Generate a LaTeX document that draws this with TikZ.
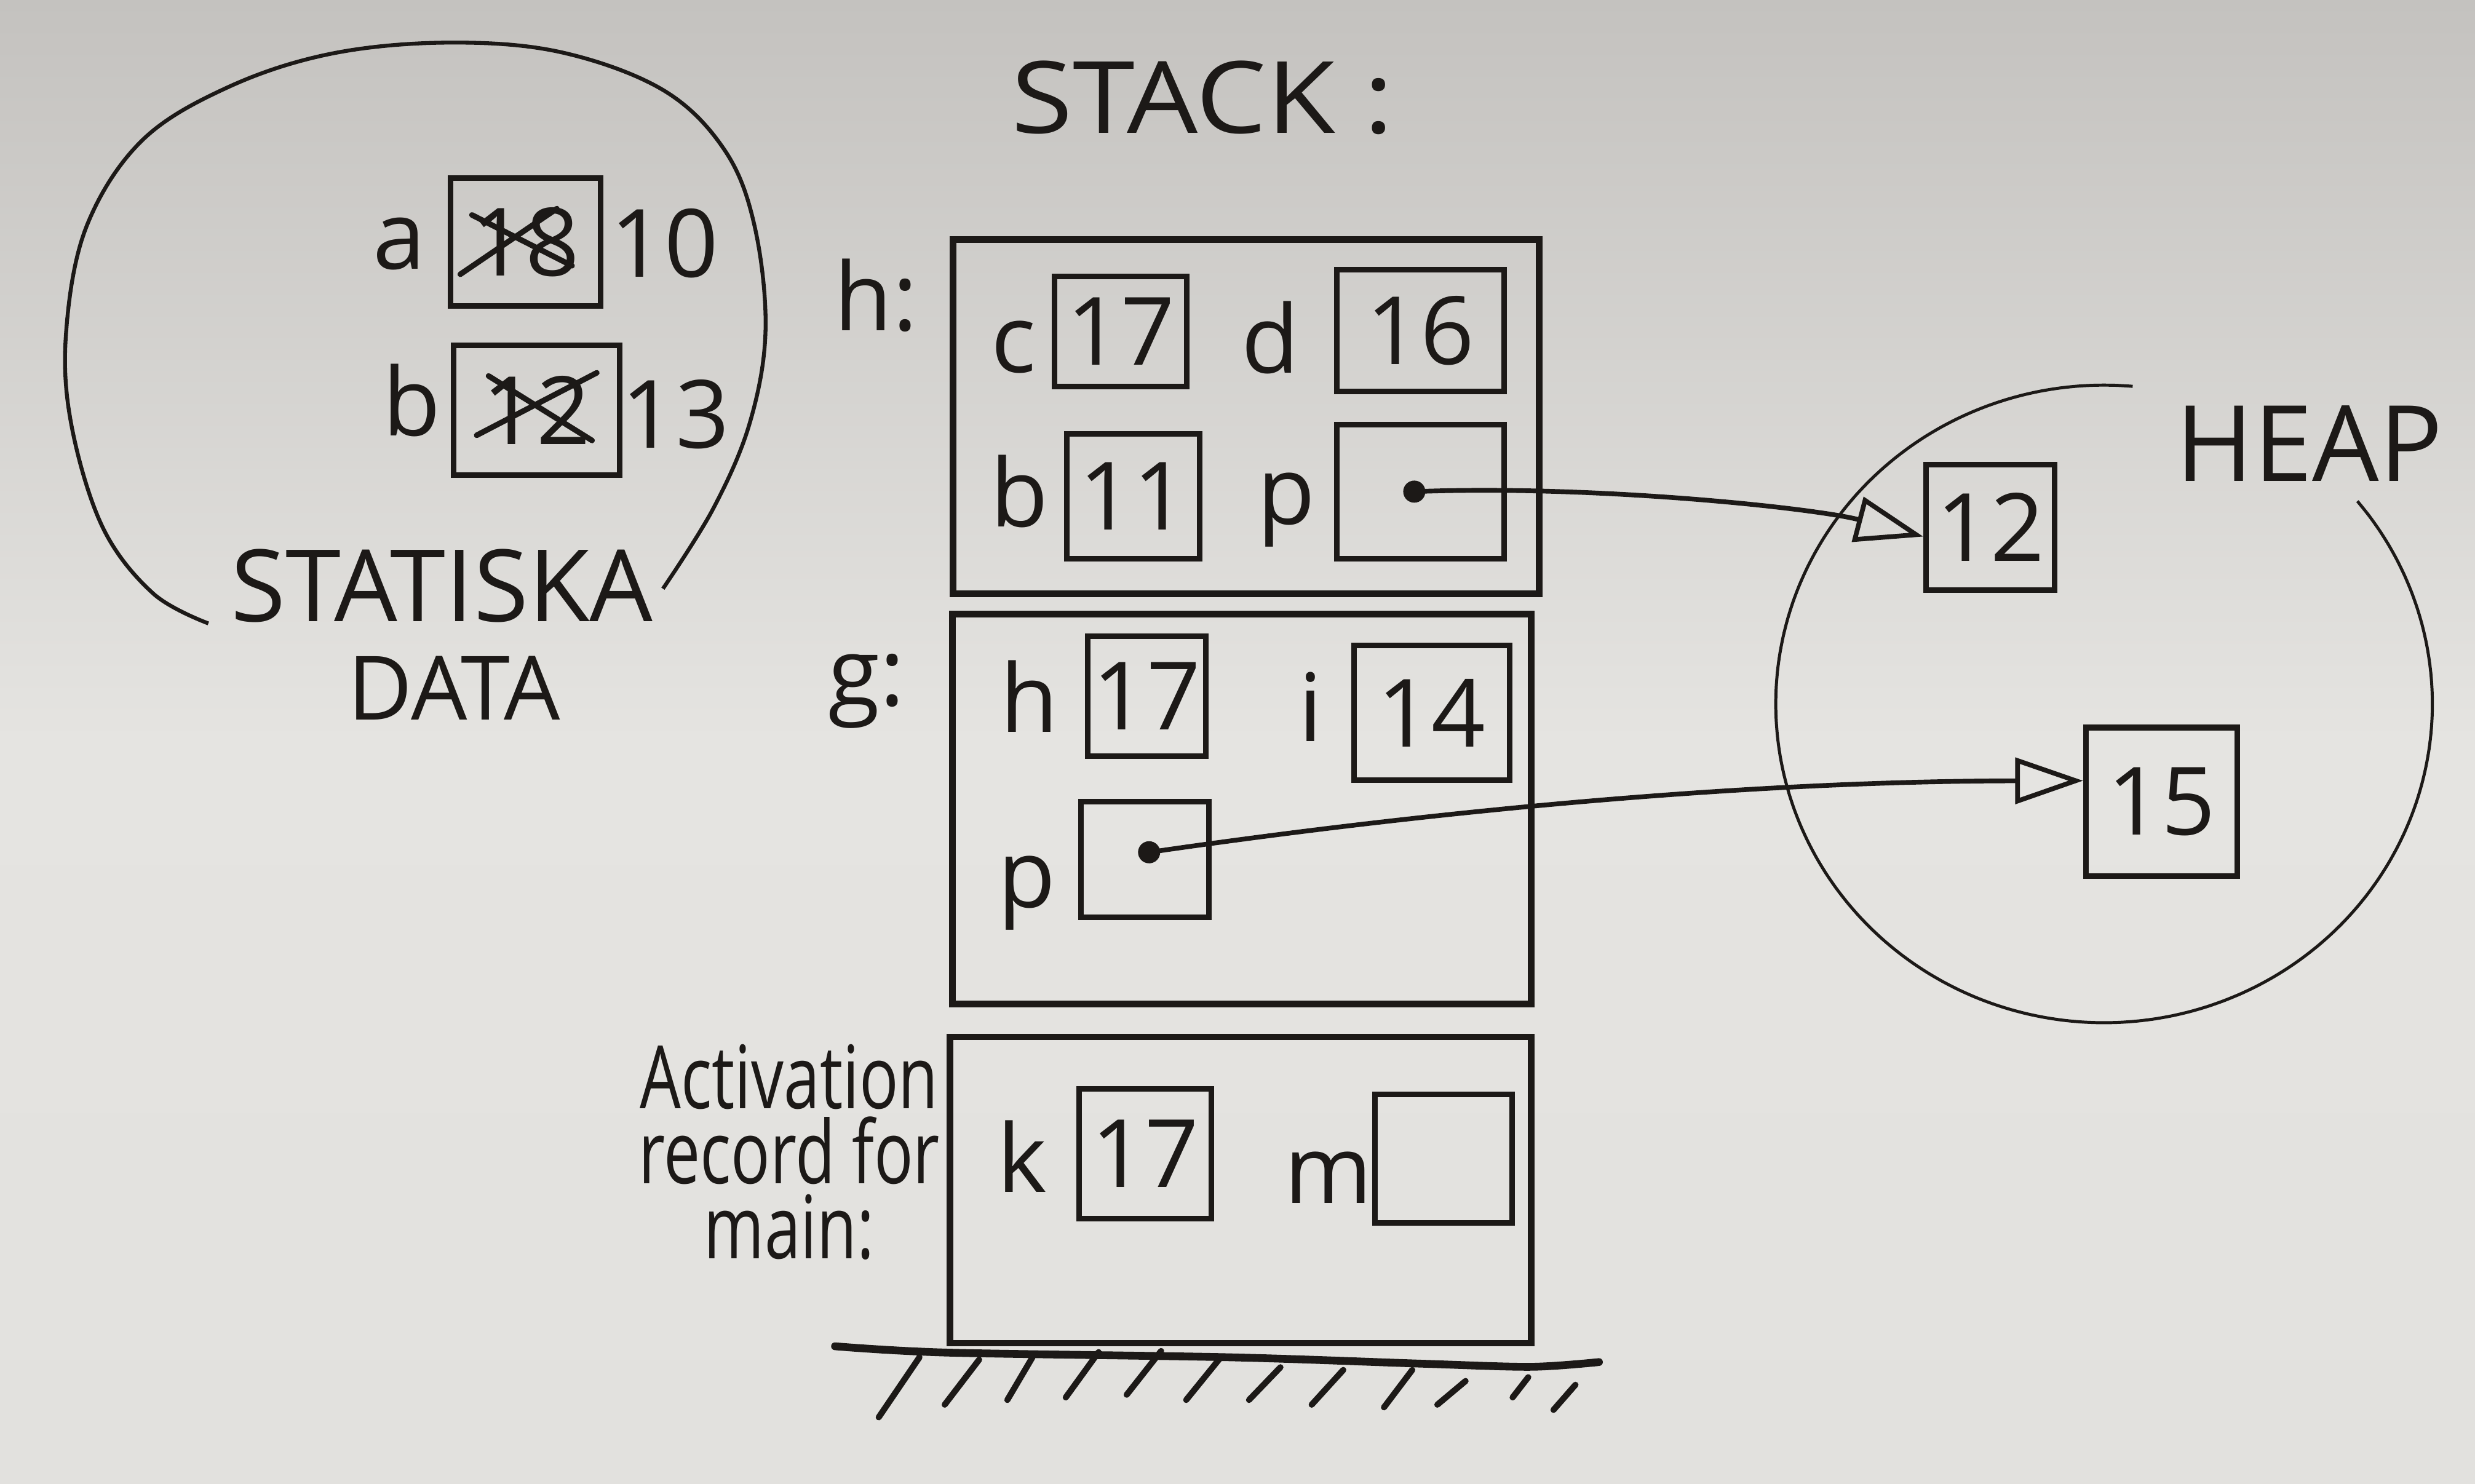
\documentclass[tikz,border=0pt]{standalone}
\usepackage{fontspec}
\usepackage{graphicx}
\setmainfont{Open Sans}
\usetikzlibrary{arrows.meta,calc}
\definecolor{ink}{RGB}{28,25,23}
\definecolor{boardtop}{RGB}{196,194,191}
\definecolor{boardmid}{RGB}{229,228,225}
\definecolor{boardbot}{RGB}{226,225,222}
\newcommand\valfont{\fontsize{17pt}{20pt}\selectfont}
\begin{document}
\begin{tikzpicture}[x=0.01cm,y=-0.01cm,
  frame/.style={draw=ink, line width=1.2pt, inner sep=0pt},
  cell/.style={draw=ink, line width=1pt, inner sep=0pt, font=\valfont, text=ink},
  lbl/.style={inner sep=0pt, font=\valfont, text=ink},
  ptr/.style={draw=ink, line width=0.85pt, -{Triangle[open, length=0.43cm, width=0.29cm]}},
  dotn/.style={circle, fill=ink, inner sep=0pt, minimum size=0.14cm},
  region/.style={draw=ink, line width=0.7pt},
  heapline/.style={draw=ink, line width=0.55pt},
  cross/.style={draw=ink, line width=1pt, line cap=round},
  ground/.style={draw=ink, line width=1.4pt, line cap=round},
  hatch/.style={draw=ink, line width=1.1pt, line cap=round},
]
\useasboundingbox (0,0) rectangle (1568,940);
\shade[top color=boardtop, bottom color=boardbot, middle color=boardmid] (0,0) rectangle (1568,940);

% ---------- static data ----------
\draw[region] plot[smooth, tension=0.6] coordinates {(132,395) (97,376) (65,334) (45,268) (42,209) (55,143) (90,89) (145,55) (210,34) (284,27) (355,33) (420,57) (459,95) (478,143) (485,209) (475,268) (452,322) (420,373)};
\node[lbl] (vara) at (253,154.5) {a};
\node[cell, minimum width=0.95cm, minimum height=0.81cm] (boxa) at (333,153.5) {18};
\draw[cross] ($(boxa)+(-41.4,20.3)$) -- ($(boxa)+(19.8,-21.3)$);
\draw[cross] ($(boxa)+(-34,-17.3)$) -- ($(boxa)+(29.4,14.9)$);
\node[lbl] (newa) at (421,154) {10};
\node[lbl] (varb) at (261,253.5) {b};
\node[cell, minimum width=1.05cm, minimum height=0.82cm] (boxb) at (340,260) {12};
\draw[cross] ($(boxb)+(-38,15.8)$) -- ($(boxb)+(38.1,-23.8)$);
\draw[cross] ($(boxb)+(-30.5,-21.8)$) -- ($(boxb)+(35.1,19.1)$);
\node[lbl] (newb) at (428,262.5) {13};
\node[lbl, font=\fontsize{18pt}{20pt}\selectfont] (stat1) at (280,371) {STATISKA};
\node[lbl, font=\fontsize{16pt}{18pt}\selectfont] (stat2) at (287.6,436) {DATA};

% ---------- stack ----------
\node[lbl, font=\fontsize{18pt}{20pt}\selectfont] (stack) at (762,62) {\scalebox{1.12}[1]{STACK :}};

% frame h
\node[frame, minimum width=3.71cm, minimum height=2.24cm] (hframe) at (789.5,264) {};
\node[lbl] (hlab) at (555,187) {h:};
\node[lbl] (cvar) at (642,220) {c};
\node[cell, minimum width=0.84cm, minimum height=0.70cm] (cbox) at (710,210) {17};
\node[lbl] (dvar) at (805,214) {d};
\node[cell, minimum width=1.06cm, minimum height=0.77cm] (dbox) at (900,209.5) {16};
\node[lbl] (hbvar) at (646,311.5) {b};
\node[cell, minimum width=0.84cm, minimum height=0.79cm] (hbbox) at (718,314.5) {11};
\node[lbl] (hpvar) at (815,323) {p};
\node[cell, minimum width=1.06cm, minimum height=0.85cm] (hpbox) at (900,311.5) {};
\node[dotn] (hdot) at (896,311.5) {};

% frame g
\node[frame, minimum width=3.665cm, minimum height=2.47cm] (gframe) at (786.7,512.5) {};
\node[lbl] (glab) at (549,438) {g:};
\node[lbl] (ghvar) at (652,441) {h};
\node[cell, minimum width=0.75cm, minimum height=0.76cm] (ghbox) at (726.5,441) {17};
\node[lbl] (givar) at (830.5,448) {i};
\node[cell, minimum width=0.985cm, minimum height=0.855cm] (gibox) at (907,451.7) {14};
\node[lbl] (gpvar) at (650.5,566) {p};
\node[cell, minimum width=0.81cm, minimum height=0.73cm] (gpbox) at (725.5,544.5) {};
\node[dotn] (gdot) at (728,540) {};

% frame main
\node[frame, minimum width=3.68cm, minimum height=1.94cm] (mainframe) at (786,754) {};
\node[lbl, align=center, font=\fontsize{15pt}{13.5pt}\selectfont] (actlab) at (500,730)
  {\scalebox{0.78}[1.05]{Activation}\\\scalebox{0.78}[1.05]{record for}\\\scalebox{0.78}[1.05]{main:}};
\node[lbl] (kvar) at (647.5,732.6) {k};
\node[cell, minimum width=0.84cm, minimum height=0.82cm] (kbox) at (725.5,731) {17};
\node[lbl] (mvar) at (841.5,746) {m};
\node[cell, minimum width=0.87cm, minimum height=0.815cm] (mbox) at (914.5,734) {};

% ground
\draw[ground] plot[smooth] coordinates {(529,853) (600,857) (780,860) (900,864) (970,866) (1013,863)};
\draw[hatch] (582.5,860) -- (556.7,898);
\draw[hatch] (620.3,861.5) -- (598.5,890);
\draw[hatch] (654.1,860) -- (638.2,887);
\draw[hatch] (696,856.7) -- (675.2,885.4);
\draw[hatch] (735.6,856) -- (713.8,883.7);
\draw[hatch] (773.4,860) -- (751.5,887);
\draw[hatch] (811.2,866.3) -- (791.3,887);
\draw[hatch] (851,868) -- (831,890);
\draw[hatch] (894.7,868) -- (876.8,891.7);
\draw[hatch] (928.5,875) -- (910.6,890);
\draw[hatch] (968.2,872.6) -- (958.3,885.4);
\draw[hatch] (998.1,877.4) -- (984.2,893.3);

% ---------- heap ----------
\draw[heapline] plot[domain=85:399.5, samples=100, smooth] ({1333+208*cos(\x)},{446-202*sin(\x)});
\node[lbl, font=\fontsize{19pt}{21pt}\selectfont] (heaplab) at (1463,281) {HEAP};
\node[cell, minimum width=0.815cm, minimum height=0.795cm] (h12) at (1261,334) {12};
\node[cell, minimum width=0.96cm, minimum height=0.94cm] (h15) at (1369.5,508) {15};

% pointers
\draw[ptr] (hdot.center) .. controls (1010,307) and (1150,322) .. (h12.188);
\draw[ptr] (gdot.center) .. controls (900,515) and (1100,495) .. (h15.165);
\end{tikzpicture}
\end{document}
